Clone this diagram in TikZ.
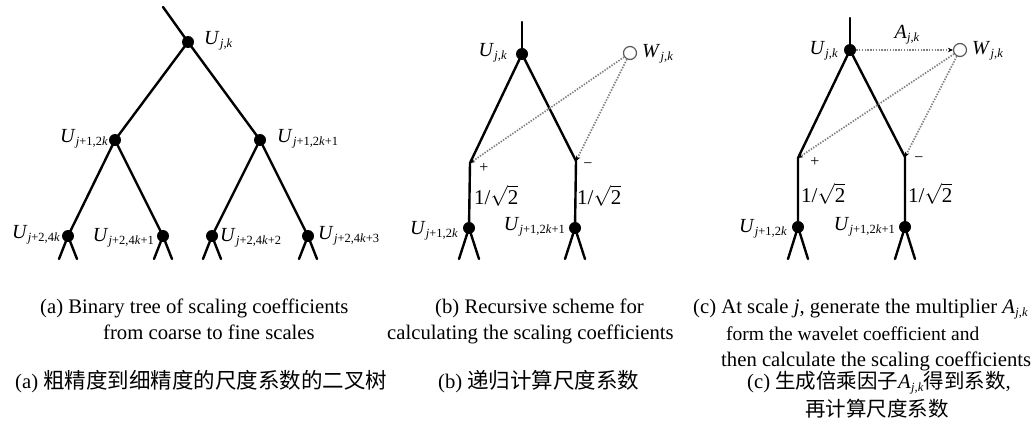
\documentclass[tikz,border=0pt]{standalone}
\usepackage{fontspec}
\setmainfont{Liberation Serif}
\newfontfamily\cjk{Noto Sans CJK SC}
\usetikzlibrary{arrows.meta}
\newcommand{\sbs}[1]{\raisebox{-0.17em}{\fontsize{12.5}{13}\selectfont #1}}
\newcommand{\vU}[1]{\textit{U}\kern0.3pt\sbs{#1}}
\newcommand{\vW}[1]{\textit{W}\kern0.3pt\sbs{#1}}
\newcommand{\vA}[1]{\textit{A}\kern0.3pt\sbs{#1}}
\newcommand{\sjk}{\textit{j},\textit{k}}
\newcommand{\mj}{\textit{j}}
\newcommand{\mk}{\textit{k}}
\newcommand{\rtwo}{1/$\sqrt{\mbox{2}}$}
\tikzset{
  treeline/.style={line width=2.4pt, line cap=round, line join=round},
  dotnode/.style={circle, fill=black, inner sep=0pt, minimum size=12pt},
  wnode/.style={circle, draw=black!65, line width=1.2pt, fill=white, inner sep=0pt, minimum size=13pt},
  dotline/.style={draw=black!50, line width=1.7pt, dash pattern=on 1.4pt off 1.4pt},
  tipend/.style={-{Stealth[length=5pt,width=4.5pt,black]}},
  labtxt/.style={inner sep=0pt, font=\fontsize{20}{20}\selectfont},
  sgntxt/.style={inner sep=0pt, font=\fontsize{16}{16}\selectfont},
  fractxt/.style={inner sep=0pt, anchor=west, font=\fontsize{21}{21}\selectfont},
  captxt/.style={inner sep=0pt, anchor=base west, font=\fontsize{20.7}{24}\selectfont}
}
\begin{document}
\begin{tikzpicture}[x=1pt,y=-1pt]
\useasboundingbox (0,0) rectangle (1036,425);
% ---------- panel (a)
\coordinate (a0t) at (163,7);
\node[dotnode] (a0) at (188,42) {};
\node[dotnode] (a1) at (115,140) {};
\node[dotnode] (a2) at (260,140) {};
\node[dotnode] (a3) at (68,236) {};
\node[dotnode] (a4) at (163,236) {};
\node[dotnode] (a5) at (212,236) {};
\node[dotnode] (a6) at (308,236) {};
\coordinate (a3l) at (59,259); \coordinate (a3r) at (77,259);
\coordinate (a4l) at (154,259); \coordinate (a4r) at (172,259);
\coordinate (a5l) at (203,259); \coordinate (a5r) at (221,259);
\coordinate (a6l) at (299,259); \coordinate (a6r) at (317,259);
\draw[treeline] (a0t) -- (a0.center);
\draw[treeline] (a0.center) -- (a1.center);
\draw[treeline] (a0.center) -- (a2.center);
\draw[treeline] (a1.center) -- (a3.center);
\draw[treeline] (a1.center) -- (a4.center);
\draw[treeline] (a2.center) -- (a5.center);
\draw[treeline] (a2.center) -- (a6.center);
\foreach \n in {a3,a4,a5,a6}{
  \draw[treeline] (\n.center) -- (\n l);
  \draw[treeline] (\n.center) -- (\n r);
}
\node[labtxt,anchor=west] (la0) at (204,41) {\vU{\sjk}};
\node[labtxt,anchor=east] (la1) at (108,139) {\vU{\mj+1,2\mk}};
\node[labtxt,anchor=west] (la2) at (277,139) {\vU{\mj+1,2\mk+1}};
\node[labtxt,anchor=east] (la3) at (60,235) {\vU{\mj+2,4\mk}};
\node[labtxt,anchor=east] (la4) at (154,238) {\vU{\mj+2,4\mk+1}};
\node[labtxt,anchor=west] (la5) at (220,238) {\vU{\mj+2,4\mk+2}};
\node[labtxt,anchor=west] (la6) at (318,236) {\vU{\mj+2,4\mk+3}};
% ---------- panel (b)
\coordinate (b0t) at (522,22);
\node[dotnode] (b0) at (522,54) {};
\node[wnode] (bw) at (630,53) {};
\coordinate (bj1) at (470,163);
\coordinate (bj2) at (576,161);
\node[dotnode] (b1) at (469,228) {};
\node[dotnode] (b2) at (575,228) {};
\coordinate (b1l) at (459,259); \coordinate (b1r) at (479,259);
\coordinate (b2l) at (565,259); \coordinate (b2r) at (585,259);
\draw[treeline] (b0t) -- (b0.center);
\draw[treeline] (b0.center) -- (bj1) -- (b1.center);
\draw[treeline] (b0.center) -- (bj2) -- (b2.center);
\foreach \n in {b1,b2}{
  \draw[treeline] (\n.center) -- (\n l);
  \draw[treeline] (\n.center) -- (\n r);
}
\draw[dotline,tipend] (bw) -- (bj1);
\draw[dotline,tipend] (bw) -- (bj2);
\node[labtxt,anchor=east] (lb0) at (507,53) {\vU{\sjk}};
\node[labtxt,anchor=west] (lbw) at (642,54) {\vW{\sjk}};
\node[sgntxt] (bp) at (484,168) {+};
\node[sgntxt] (bm) at (588,166) {\textminus};
\node[fractxt] (bf1) at (474,196) {\rtwo};
\node[fractxt] (bf2) at (577,196) {\rtwo};
\node[labtxt,anchor=east] (lb1) at (458,231) {\vU{\mj+1,2\mk}};
\node[labtxt,anchor=east] (lb2) at (565,227) {\vU{\mj+1,2\mk+1}};
% ---------- panel (c)
\coordinate (c0t) at (850,18);
\node[dotnode] (c0) at (850,50) {};
\node[wnode] (cw) at (960,50) {};
\coordinate (cj1) at (798,158);
\coordinate (cj2) at (905,157);
\node[dotnode] (c1) at (798,227) {};
\node[dotnode] (c2) at (905,227) {};
\coordinate (c1l) at (788,259); \coordinate (c1r) at (808,259);
\coordinate (c2l) at (895,259); \coordinate (c2r) at (915,259);
\draw[treeline] (c0t) -- (c0.center);
\draw[treeline] (c0.center) -- (cj1) -- (c1.center);
\draw[treeline] (c0.center) -- (cj2) -- (c2.center);
\foreach \n in {c1,c2}{
  \draw[treeline] (\n.center) -- (\n l);
  \draw[treeline] (\n.center) -- (\n r);
}
\draw[dotline,tipend] (c0) -- (cw);
\draw[dotline,tipend] (cw) -- (cj1);
\draw[dotline,tipend] (cw) -- (cj2);
\node[labtxt,anchor=east] (lc0) at (838,51) {\vU{\sjk}};
\node[labtxt] (lca) at (907,35) {\vA{\sjk}};
\node[labtxt,anchor=west] (lcw) at (972,51) {\vW{\sjk}};
\node[sgntxt] (cp) at (815,162) {+};
\node[sgntxt] (cm) at (919,160) {\textminus};
\node[fractxt] (cf1) at (801,194) {\rtwo};
\node[fractxt] (cf2) at (908,194) {\rtwo};
\node[labtxt,anchor=east] (lc1) at (787,229) {\vU{\mj+1,2\mk}};
\node[labtxt,anchor=east] (lc2) at (895,227) {\vU{\mj+1,2\mk+1}};
% ---------- captions
\node[captxt] (ta1) at (40,313) {(a) Binary tree of scaling coefficients};
\node[captxt] (ta2) at (103,339) {from coarse to fine scales};
\node[captxt] (tb1) at (435,313) {(b) Recursive scheme for};
\node[captxt] (tb2) at (387,339) {calculating the scaling coefficients};
\node[captxt] (tc1) at (693,313) {(c) At scale \textit{j}, generate the multiplier \vA{\sjk}};
\node[captxt] (tc2) at (726,340) {\fontsize{19.5}{24}\selectfont form the wavelet coefficient and};
\node[captxt] (tc3) at (721,366) {then calculate the scaling coefficients};
\node[captxt] (za) at (15,388) {(a)\hspace{5pt}{\cjk\fontsize{21.5}{24}\selectfont 粗精度到细精度的尺度系数的二叉树}};
\node[captxt] (zb) at (438,388) {(b)\hspace{5pt}{\cjk\fontsize{21.5}{24}\selectfont 递归计算尺度系数}};
\node[captxt] (zc1) at (747,388) {(c)\hspace{5pt}{\cjk\fontsize{20.5}{24}\selectfont 生成倍乘因子}\vA{\sjk}{\cjk\fontsize{20.5}{24}\selectfont 得到系数},};
\node[captxt] (zc2) at (805,416) {{\cjk\fontsize{20.5}{24}\selectfont 再计算尺度系数}};
\end{tikzpicture}
\end{document}
